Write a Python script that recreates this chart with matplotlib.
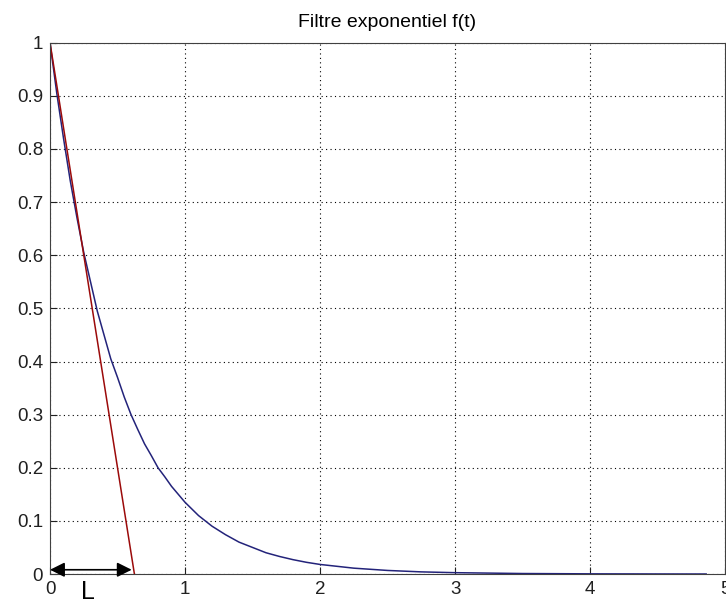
import matplotlib.pyplot as plt

plt.rcParams['font.family'] = ['Liberation Sans', 'DejaVu Sans']

# exponential filter f(t)
t_pts = [0, 0.05, 0.1, 0.15, 0.2, 0.25, 0.3, 0.35, 0.4, 0.45, 0.5, 0.55, 0.6, 0.65, 0.7,
         0.75, 0.8, 0.85, 0.9, 0.95, 1.0, 1.1, 1.2, 1.3, 1.4, 1.5, 1.6, 1.7, 1.8, 1.9, 2.0,
         2.25, 2.5, 2.75, 3.0, 3.5, 4.0, 4.5, 4.86]
f_pts = [1.0, 0.905, 0.82, 0.74, 0.67, 0.605, 0.55, 0.495, 0.45, 0.405, 0.37, 0.333, 0.30,
         0.272, 0.245, 0.223, 0.20, 0.183, 0.165, 0.15, 0.135, 0.11, 0.09, 0.074, 0.06,
         0.05, 0.04, 0.033, 0.027, 0.022, 0.018, 0.011, 0.0067, 0.004, 0.0025, 0.0009,
         0.0003, 0.0001, 0.0]

# straight line from f(0) down to the axis
tan_t = [0, 0.625]
tan_f = [1, 0]

# span of L marked under the curve
L_start, L_end, L_y = 0.0, 0.605, 0.008
L_label = 'L'

fig = plt.figure(figsize=(7.26, 6.02), dpi=100)
ax = fig.add_axes([0.0689, 0.0465, 0.9298, 0.8825])

ax.plot(t_pts, f_pts, color='#23237a', lw=1.1)
ax.plot(tan_t, tan_f, color='#9b0a0a', lw=1.1)

ax.annotate('', xy=(L_end, L_y), xytext=(L_start, L_y),
            arrowprops=dict(arrowstyle='<|-|>', color='black', lw=1.2,
                            mutation_scale=22, shrinkA=0, shrinkB=0))
ax.text(0.28, -0.012, L_label, fontsize=18, ha='center', va='top',
        transform=ax.transData, clip_on=False)

ax.set_xlim(0, 5)
ax.set_ylim(0, 1)
ax.set_xticks(range(6))
ax.set_yticks([i / 10 for i in range(11)])
ax.set_yticklabels(['0'] + ['%.1f' % (i / 10) for i in range(1, 10)] + ['1'])
ax.tick_params(direction='in', length=5, labelsize=13.5, colors='#202020', pad=5)
ax.grid(True, color='black', linestyle=(0, (1, 3)), lw=0.8)
for s in ax.spines.values():
    s.set_color('#404040')

ax.set_title('Filtre exponentiel f(t)', fontsize=14, pad=11)

fig.savefig('out.png', dpi=100)
